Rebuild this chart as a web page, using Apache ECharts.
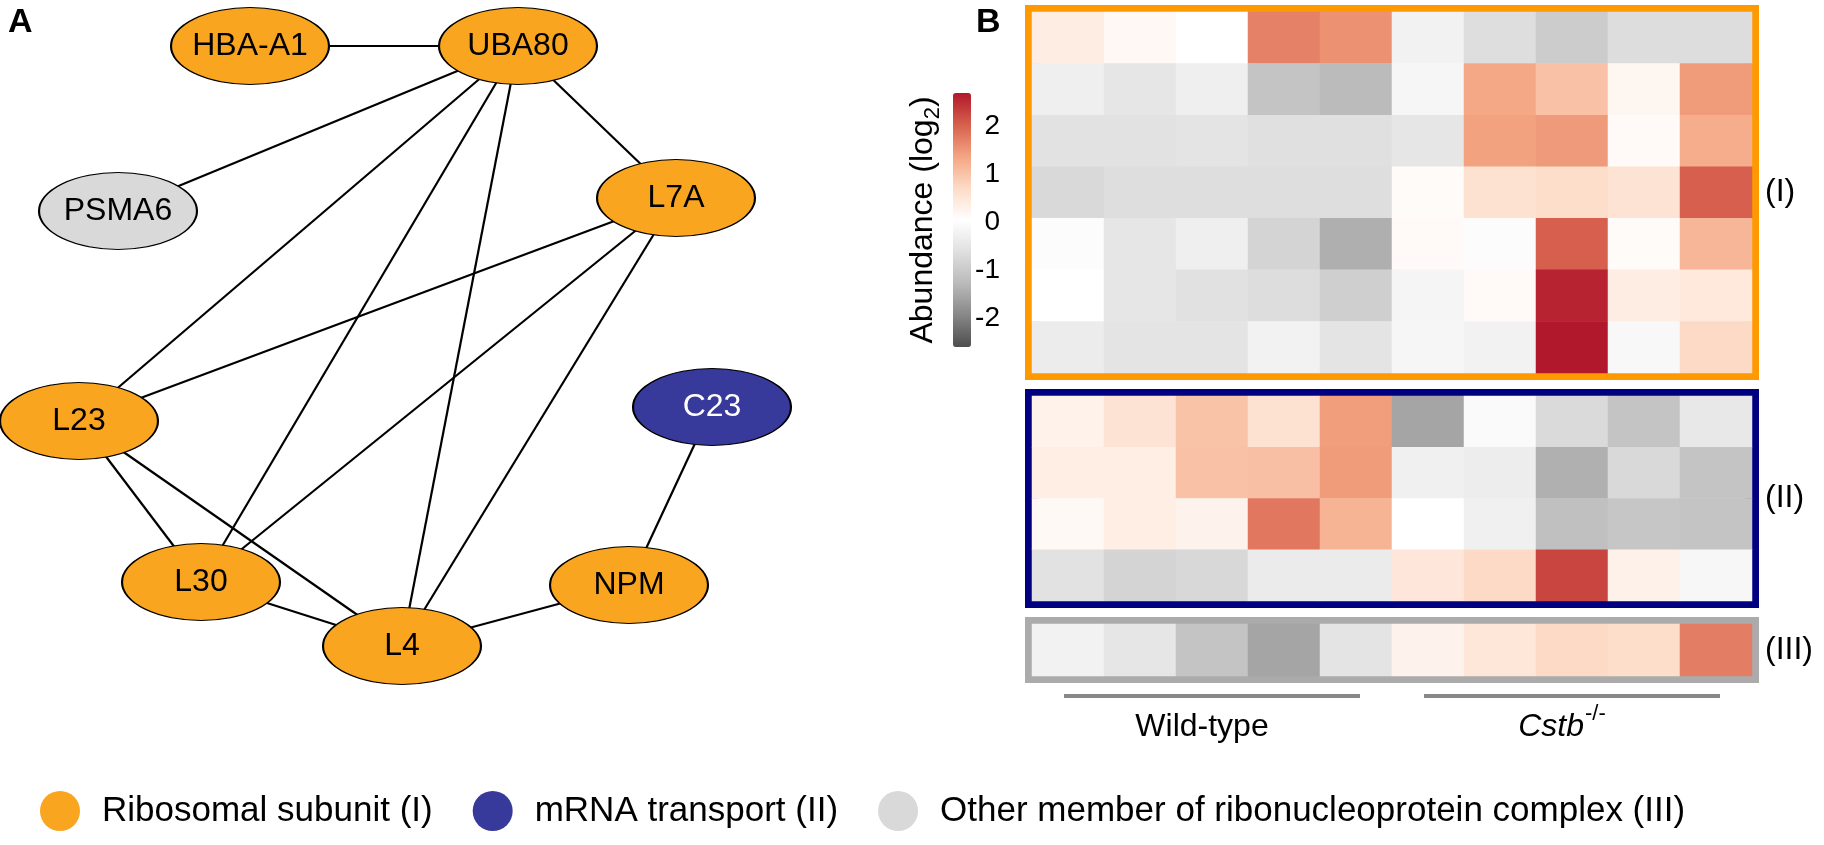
<!DOCTYPE html>
<html><head><meta charset="utf-8">
<script src="https://cdn.jsdelivr.net/npm/echarts@6/dist/echarts.min.js"></script>
<style>html,body{margin:0;padding:0;background:#fff}#c{width:1824px;height:845px}</style>
</head><body><div id="c"></div>
<script>
// ---------- data ----------
const samples = ['WT-1','WT-2','WT-3','WT-4','WT-5','KO-1','KO-2','KO-3','KO-4','KO-5'];
const groups = [
  {name: 'Wild-type', from: 0, to: 4},
  {name: 'Cstb', sup: '-/-', from: 5, to: 9}
];
const blockLabels = ['(I)', '(II)', '(III)'];
const blockIValues = [
  [0.39, 0.18, 0.05, 1.72, 1.56, -0.23, -0.65, -0.96, -0.66, -0.66],
  [-0.29, -0.49, -0.29, -1.10, -1.26, -0.14, 1.34, 1.02, 0.22, 1.46],
  [-0.57, -0.57, -0.53, -0.62, -0.62, -0.49, 1.40, 1.48, 0.15, 1.28],
  [-0.73, -0.65, -0.65, -0.65, -0.65, 0.12, 0.58, 0.66, 0.57, 2.04],
  [-0.02, -0.49, -0.29, -0.82, -1.42, 0.14, -0.01, 2.04, 0.12, 1.17],
  [0.05, -0.49, -0.60, -0.66, -0.91, -0.16, 0.14, 2.60, 0.38, 0.46],
  [-0.35, -0.53, -0.53, -0.23, -0.53, -0.14, -0.23, 2.70, -0.10, 0.72]
];
const blockIIValues = [
  [0.29, 0.57, 1.01, 0.60, 1.44, -1.55, -0.06, -0.72, -1.10, -0.44],
  [0.37, 0.37, 1.03, 1.05, 1.47, -0.27, -0.33, -1.41, -0.73, -1.10],
  [0.16, 0.37, 0.27, 1.82, 1.19, 0.05, -0.27, -1.17, -1.06, -1.10],
  [-0.57, -0.82, -0.75, -0.37, -0.37, 0.49, 0.72, 2.29, 0.30, -0.12]
];
const blockIIIValues = [
  [-0.23, -0.49, -1.10, -1.55, -0.53, 0.27, 0.51, 0.72, 0.66, 1.75]
];
const colorMin = -2.6, colorMax = 2.7;
const colorTicks = [-2, -1, 0, 1, 2];
const categories = ['Ribosomal subunit (I)', 'mRNA transport (II)', 'Other member of ribonucleoprotein complex (III)'];
// network nodes: name, layout position (x, y), category index
const nodeNames = ['HBA-A1', 'UBA80', 'PSMA6', 'L7A', 'L23', 'C23', 'L30', 'NPM', 'L4'];
const nodeX = [250, 518, 118, 676, 79, 712, 201, 629, 402];
const nodeY = [46, 46, 211, 198, 421, 407, 582, 585, 646];
const nodeCat = [0, 0, 2, 0, 0, 1, 0, 0, 0];
const links = [
  ['HBA-A1','UBA80'], ['UBA80','PSMA6'], ['UBA80','L7A'], ['UBA80','L23'], ['UBA80','L30'], ['UBA80','L4'],
  ['L7A','L23'], ['L7A','L30'], ['L7A','L4'], ['L23','L30'], ['L23','L4'], ['L30','L4'], ['L4','NPM'], ['NPM','C23']
];

// ---------- styles / layout ----------
const FONT = '"Liberation Sans", Arial, Helvetica, sans-serif';
const catColors = ['#F9A51F', '#383A9B', '#D9D9D9'];
const heatColors = ['#4d4d4d','#878787','#bababa','#e0e0e0','#ffffff','#fddbc7','#f4a582','#d6604d','#b2182b'];
const blocks = [
  {values: blockIValues, top: 12, height: 361, border: '#FF9900'},
  {values: blockIIValues, top: 396, height: 205, border: '#000080'},
  {values: blockIIIValues, top: 624, height: 52, border: '#ABABAB'}
];
const heatLeft = 1032, heatWidth = 720;

const grids = [{left: 0, top: 0, width: 900, height: 845}];
const xAxes = [{gridIndex: 0, type: 'value', min: 0, max: 900, show: false}];
const yAxes = [{gridIndex: 0, type: 'value', min: 0, max: 845, inverse: true, show: false}];
const series = [];

series.push({
  type: 'graph', coordinateSystem: 'cartesian2d', xAxisIndex: 0, yAxisIndex: 0,
  symbol: 'circle', symbolSize: [158, 77], z: 3,
  categories: categories.map((c, i) => ({name: c, itemStyle: {color: catColors[i]}})),
  data: nodeNames.map((n, i) => ({
    name: n, value: [nodeX[i], nodeY[i]], category: nodeCat[i],
    label: nodeCat[i] === 1 ? {color: '#fff'} : {color: '#000'}
  })),
  links: links.map(l => ({source: l[0], target: l[1]})),
  itemStyle: {borderColor: '#000', borderWidth: 1.5},
  lineStyle: {color: '#000', width: 2.2, opacity: 1, curveness: 0},
  label: {show: true, position: 'inside', fontSize: 32, fontFamily: FONT},
  emphasis: {disabled: true}
});

blocks.forEach((b, k) => {
  const gi = k + 1;
  grids.push({left: heatLeft, top: b.top, width: heatWidth, height: b.height, show: true,
    borderColor: b.border, borderWidth: 14, backgroundColor: 'transparent'});
  xAxes.push({gridIndex: gi, type: 'category', data: samples, show: false});
  const rowNames = b.values.map((r, i) => blockLabels[k] + '-' + (i + 1));
  yAxes.push({gridIndex: gi, type: 'category', data: rowNames, inverse: true, position: 'right',
    axisLine: {show: false}, axisTick: {show: false}, axisLabel: {show: false}, splitLine: {show: false},
    name: blockLabels[k], nameLocation: 'middle', nameRotate: 0, nameGap: 13,
    nameTextStyle: {fontSize: 32, color: '#000', fontFamily: FONT}});
  const data = [];
  b.values.forEach((row, r) => row.forEach((v, c) => data.push([c, r, v])));
  series.push({type: 'heatmap', xAxisIndex: gi, yAxisIndex: gi, data: data, z: 2, emphasis: {disabled: true}});
});

// colour-bar axis grid (index 4)
grids.push({left: 953, top: 93, width: 18, height: 254});
xAxes.push({gridIndex: 4, type: 'value', min: 0, max: 1, show: false});
yAxes.push({gridIndex: 4, type: 'value', min: colorMin, max: colorMax, position: 'right',
  axisLine: {show: false}, axisTick: {show: false}, splitLine: {show: false},
  axisLabel: {customValues: colorTicks, align: 'right', margin: 29, fontSize: 28, color: '#000', fontFamily: FONT}});
yAxes.push({gridIndex: 4, type: 'value', min: colorMin, max: colorMax, position: 'left',
  axisLine: {show: false}, axisTick: {show: false}, splitLine: {show: false}, axisLabel: {show: false},
  name: '{a|Abundance (log}{s|2}{a|)}', nameLocation: 'middle', nameRotate: 90, nameGap: 9,
  nameTextStyle: {color: '#000', fontFamily: FONT, rich: {
    a: {fontSize: 32, fontFamily: FONT, color: '#000'},
    s: {fontSize: 22, fontFamily: FONT, color: '#000', padding: [20, 0, 0, 0]}
  }}});

// group bars under the heatmap (drawn on block III axes)
series.push({
  type: 'custom', xAxisIndex: 3, yAxisIndex: 3, clip: false, z: 5,
  encode: {x: [0, 1], y: 2},
  data: groups.map(g => [g.from, g.to, 0]),
  renderItem: function (params, api) {
    const c0 = api.coord([api.value(0), 0]);
    const c1 = api.coord([api.value(1), 0]);
    const sz = api.size([1, 1]);
    const inset = 32;
    const x0 = c0[0] - sz[0] / 2 + inset, x1 = c1[0] + sz[0] / 2 - inset;
    const yb = c0[1] + sz[1] / 2;
    const g = groups[params.dataIndex];
    const textStyle = g.sup ? {
      text: '{i|' + g.name + '}{s|' + g.sup + '}',
      rich: {
        i: {fontSize: 32, fontStyle: 'italic', fontFamily: FONT, fill: '#000'},
        s: {fontSize: 22, fontFamily: FONT, fill: '#000', padding: [0, 0, 26, 1]}
      }
    } : {text: g.name, fontSize: 32, fontFamily: FONT};
    return {type: 'group', children: [
      {type: 'line', shape: {x1: x0, y1: yb + 20, x2: x1, y2: yb + 20}, style: {stroke: '#888888', lineWidth: 4}},
      {type: 'text', x: (x0 + x1) / 2 - 10, y: yb + 51,
       style: Object.assign({fill: '#000', align: 'center', verticalAlign: 'middle'}, textStyle)}
    ]};
  }
});

const option = {
  animation: false,
  textStyle: {fontFamily: FONT},
  title: [
    {text: 'A', left: 8, top: 6, padding: 0, textStyle: {fontSize: 34, fontWeight: 'bold', color: '#000', fontFamily: FONT}},
    {text: 'B', left: 976, top: 6, padding: 0, textStyle: {fontSize: 34, fontWeight: 'bold', color: '#000', fontFamily: FONT}}
  ],
  legend: {
    data: categories, left: 40, top: 791, padding: 0, orient: 'horizontal',
    itemWidth: 40, itemHeight: 40, icon: 'circle', itemGap: 40, selectedMode: false,
    itemStyle: {borderWidth: 0},
    textStyle: {fontSize: 35, color: '#000', fontFamily: FONT, padding: [0, 0, 0, 17]}
  },
  visualMap: {
    type: 'continuous', min: colorMin, max: colorMax, seriesIndex: [1, 2, 3],
    left: 953, top: 93, itemWidth: 18, itemHeight: 254, calculable: false, padding: 0,
    hoverLink: false, inRange: {color: heatColors}
  },
  grid: grids, xAxis: xAxes, yAxis: yAxes, series: series
};
const chart = echarts.init(document.getElementById('c'), null, {renderer: 'canvas'});
chart.setOption(option);
</script></body></html>
